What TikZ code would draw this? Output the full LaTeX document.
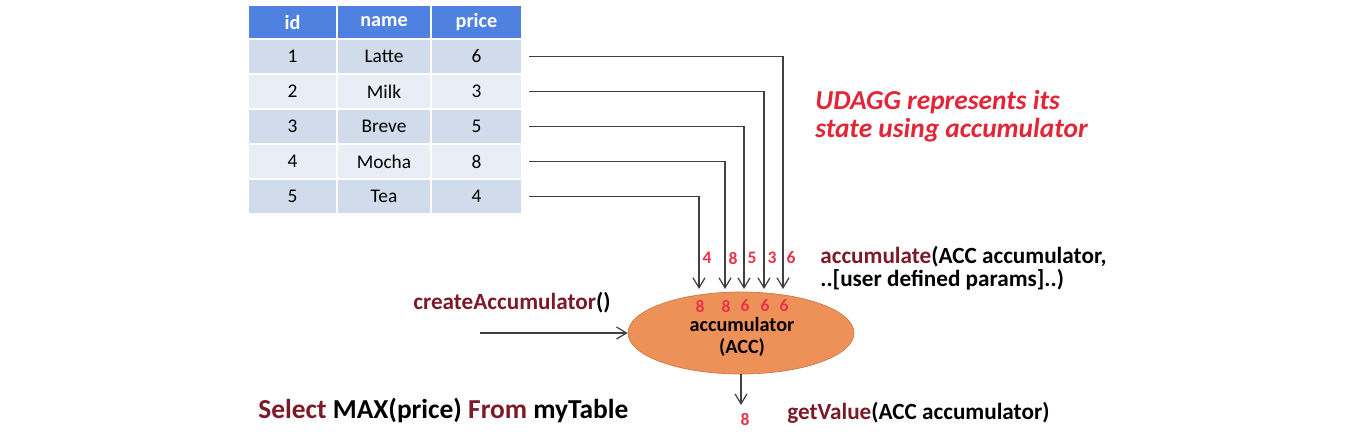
\documentclass[tikz,border=0pt]{standalone}
\usepackage{fontspec}
\setmainfont{Carlito}
\usetikzlibrary{shapes,arrows.meta}

\definecolor{hdblue}{RGB}{79,129,224}
\definecolor{rowdark}{RGB}{208,219,235}
\definecolor{rowlight}{RGB}{233,238,246}
\definecolor{fnred}{RGB}{125,26,40}
\definecolor{numred}{RGB}{232,52,72}
\definecolor{notered}{RGB}{226,38,56}
\definecolor{accorange}{RGB}{238,145,88}

\tikzset{
  cell/.style={draw=white, line width=1pt, minimum height=0.7cm, inner sep=0pt, font=\fontsize{11}{13}\selectfont},
  hdcell/.style={cell, fill=hdblue, text=white, minimum height=0.68cm, font=\fontsize{11.5}{13}\selectfont\bfseries},
  feed/.style={->, draw=black!75, line width=0.7pt},
  num/.style={text=numred, inner sep=0pt, font=\fontsize{10}{11}\selectfont\bfseries},
  call/.style={inner sep=0pt, align=left, font=\fontsize{13.2}{13}\selectfont\bfseries}
}

\begin{document}
\begin{tikzpicture}[x=0.02cm, y=-0.02cm, >={Straight Barb[length=2mm,width=2.4mm]}]
  \useasboundingbox (0,0) rectangle (1358,440);

  \node[hdcell, minimum width=1.78cm] (hid) at (292.5,22) {id};
  \node[hdcell, minimum width=1.88cm] (hname) at (384,22) {name};
  \node[hdcell, minimum width=1.82cm] (hprice) at (476.5,22) {price};

  \foreach \r/\n/\p [count=\i] in {1/Latte/6, 2/Milk/3, 3/Breve/5, 4/Mocha/8, 5/Tea/4} {
    \ifodd\i \def\rowcol{rowdark}\else \def\rowcol{rowlight}\fi
    \node[cell, fill=\rowcol, minimum width=1.78cm] (id\i) at (292.5,21.5+35*\i) {\r};
    \node[cell, fill=\rowcol, minimum width=1.88cm] (name\i) at (384,21.5+35*\i) {\n};
    \node[cell, fill=\rowcol, minimum width=1.82cm] (price\i) at (476.5,21.5+35*\i) {\p};
  }

  \node[ellipse, fill=accorange, draw=accorange!85!black, line width=0.4pt, minimum width=4.52cm, minimum height=1.64cm, inner sep=0pt] (acc) at (741,333) {};
  \node[call, align=center, font=\fontsize{11.5}{13}\selectfont\bfseries] (acclbl) at (742,337) {accumulator\\(ACC)};

  \foreach \x/\r/\v/\s [count=\j] in {699/5/4/8, 725/4/8/8, 744/3/5/6, 764/2/3/6, 783/1/6/6} {
    \coordinate (in\j) at (\x,289);
    \draw[feed] ([xshift=0.12cm]price\r.east) -| (in\j);
    \node[num] (v\j) at (\x+8,258) {\v};
    \node[num] (s\j) at (\x+1,306) {\s};
  }

  \coordinate (cstart) at (480,333);
  \draw[feed] (cstart) -- (acc.west);
  \node[call, anchor=base west] (create) at (413,309) {\textcolor{fnred}{createAccumulator}()};

  \node[call, anchor=west] (accum) at (820,268.5) {\textcolor{fnred}{accumulate}(ACC accumulator,\\..[user defined params]..)};

  \coordinate (out) at (741,405);
  \draw[feed] (acc.south) -- (out);
  \node[num] (result) at (745,419) {8};
  \node[call, anchor=west] (getv) at (787,413) {\textcolor{fnred}{getValue}(ACC accumulator)};

  \node[inner sep=0pt, anchor=west, font=\fontsize{15.6}{17}\selectfont\bfseries] (query) at (258,410) {\textcolor{fnred}{Select} MAX(price) \textcolor{fnred}{From} myTable};

  \node[inner sep=0pt, anchor=west, align=left, text=notered, font=\fontsize{15.6}{16}\selectfont\bfseries\itshape] (note) at (815,116) {UDAGG represents its\\state using accumulator};
\end{tikzpicture}
\end{document}
